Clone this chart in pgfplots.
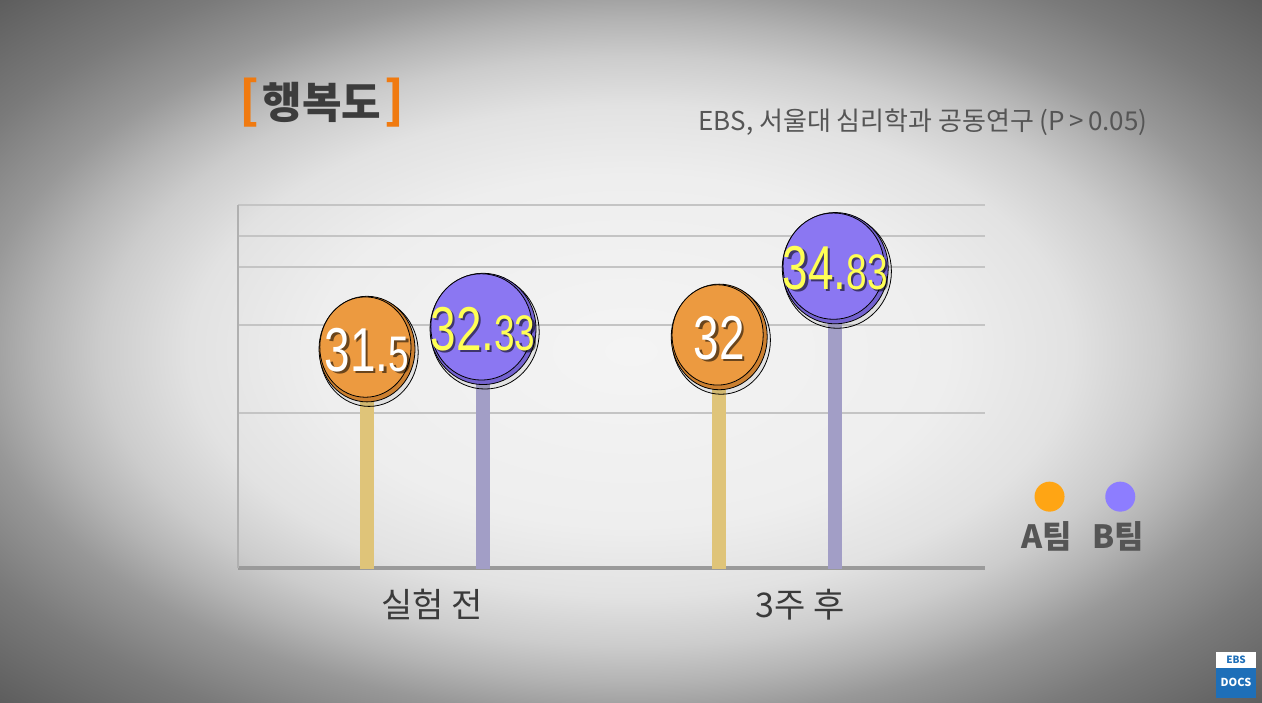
\documentclass[border=0pt]{standalone}
\usepackage{fontspec}
\setmainfont{Noto Sans CJK KR}
\newfontfamily\numfont[FakeStretch=0.74]{Liberation Sans}
\usepackage{pgfplots}
\pgfplotsset{compat=1.18}

\definecolor{bg0}{HTML}{F4F4F4}
\definecolor{bg1}{HTML}{EEEEEE}
\definecolor{bg2}{HTML}{E2E2E2}
\definecolor{bg3}{HTML}{CCCCCC}
\definecolor{bg4}{HTML}{B4B4B4}
\definecolor{bg5}{HTML}{989898}
\definecolor{bg6}{HTML}{7A7A7A}
\definecolor{bg7}{HTML}{5A5A5A}
\definecolor{brk}{HTML}{F07A10}
\definecolor{ttl}{HTML}{3C3C3C}
\definecolor{sub}{HTML}{555555}
\definecolor{gridc}{HTML}{C4C4C4}
\definecolor{axc}{HTML}{9A9A9A}
\definecolor{axc2}{HTML}{B0B0B0}
\definecolor{stickA}{HTML}{DFC479}
\definecolor{stickB}{HTML}{A29EC6}
\definecolor{rimA}{HTML}{CC8030}
\definecolor{mainA}{HTML}{EC9A40}
\definecolor{rimB}{HTML}{7362CF}
\definecolor{mainB}{HTML}{8B77F2}
\definecolor{legA}{HTML}{FFA514}
\definecolor{legB}{HTML}{8D7DFF}
\definecolor{valA}{HTML}{FFFFFF}
\definecolor{valB}{HTML}{FFFF55}
\definecolor{lbl}{HTML}{3A3A3A}
\definecolor{lgt}{HTML}{555555}
\definecolor{ebsblue}{HTML}{1E6FB8}

\pgfdeclareradialshading{vig}{\pgfpoint{0bp}{0bp}}{color(0bp)=(bg0); color(25bp)=(bg1); color(35bp)=(bg2); color(42bp)=(bg3); color(47bp)=(bg4); color(52bp)=(bg5); color(60bp)=(bg6); color(72bp)=(bg7)}

\newcommand\dec[1]{{\fontsize{25bp}{25bp}\selectfont #1}}

\pgfplotsset{
  valnodes/.style={draw=none, mark=none, forget plot,
    point meta=explicit symbolic, nodes near coords,
    every node near coord/.append style={anchor=center,
      font=\numfont\fontsize{31bp}{31bp}\selectfont, inner sep=0pt}},
}

\begin{document}
\begin{tikzpicture}[x=1bp,y=1bp]
\useasboundingbox (0,0) rectangle (631,351);
\begin{scope}
\clip (0,0) rectangle (631,351);
\begin{pgfscope}
\pgftransformshift{\pgfpoint{315.5bp}{175.5bp}}
\pgftransformxscale{6.31}
\pgftransformyscale{3.51}
\pgflowlevelsynccm
\pgfuseshading{vig}
\end{pgfscope}
\end{scope}
% title
\node at (161,299.5) {\textcolor{brk}{\fontsize{25bp}{25bp}\selectfont\bfseries [}\,\textcolor{ttl}{\fontsize{21.5bp}{21.5bp}\selectfont\bfseries 행복도}\,\textcolor{brk}{\fontsize{25bp}{25bp}\selectfont\bfseries ]}};
% subtitle
\node[text=sub] at (461.5,290) {\fontsize{13bp}{13bp}\selectfont EBS, 서울대 심리학과 공동연구 (P\,>\,0.05)};
% logo
\fill[white] (608,17) rectangle (628,25);
\fill[ebsblue] (608,2) rectangle (628,17);
\node[text=ebsblue, inner sep=0pt] at (618,21) {\fontsize{5bp}{5bp}\selectfont\bfseries EBS};
\node[text=white, inner sep=0pt] at (618,10) {\fontsize{5.5bp}{5.5bp}\selectfont\bfseries DOCS};

\begin{axis}[
  at={(119bp,67bp)}, anchor=south west, scale only axis,
  width=373.5bp, height=181.5bp,
  xmin=-0.531, xmax=1.59, ymin=22.49, ymax=37.43,
  axis lines*=left,
  x axis line style={line width=1.6bp, color=axc, -},
  y axis line style={line width=0.8bp, color=axc2, -},
  xtick={0.02,1.065}, xticklabels={실험 전,3주 후},
  ytick={28.87,32.49,34.88,36.15,37.43}, yticklabels={},
  major tick length=0pt,
  ymajorgrids, grid style={color=gridc, line width=0.9bp},
  xticklabel style={font=\fontsize{17bp}{17bp}\selectfont, text=lbl, yshift=-7bp},
  legend style={at={(1.035,0.022)}, anchor=south west, draw=none, fill=none,
    font=\fontsize{16bp}{16bp}\selectfont\bfseries, text=lgt,
    /tikz/every even column/.append style={column sep=6bp}},
  legend columns=2,
  legend image code/.code={\path[draw=none,fill=none] (0,0) rectangle (0.1bp,0.1bp);
    \fill[#1,overlay] (16bp,20bp) circle (7.5bp);},
]
% sticks
\addplot[ycomb, draw=stickA, line width=7bp, line cap=round, xshift=-29bp, forget plot] coordinates {(0,31.5) (1,32)};
\addplot[ycomb, draw=stickB, line width=7bp, line cap=round, xshift=29bp, forget plot] coordinates {(0,32.33) (1,34.83)};
% circle shadows
\addplot[only marks, mark=*, mark size=24.6bp, mark options={draw=none, fill=black, fill opacity=0.06, yscale=1.1}, xshift=-28bp, yshift=-1.6bp, forget plot] coordinates {(0,31.5) (1,32)};
\addplot[only marks, mark=*, mark size=27.1bp, mark options={draw=none, fill=black, fill opacity=0.06, yscale=1.05}, xshift=30bp, yshift=-1.6bp, forget plot] coordinates {(0,32.33) (1,34.83)};
% rims
\addplot[only marks, mark=*, mark size=24bp, mark options={draw=none, fill=rimA, yscale=1.1}, xshift=-29bp, forget plot] coordinates {(0,31.5) (1,32)};
\addplot[only marks, mark=*, mark size=26.5bp, mark options={draw=none, fill=rimB, yscale=1.05}, xshift=29bp, forget plot] coordinates {(0,32.33) (1,34.83)};
% faces
\addplot[only marks, mark=*, mark size=22.8bp, mark options={draw=none, fill=mainA, yscale=1.1}, xshift=-29.8bp, yshift=1bp, forget plot] coordinates {(0,31.5) (1,32)};
\addplot[only marks, mark=*, mark size=25.3bp, mark options={draw=none, fill=mainB, yscale=1.05}, xshift=28.2bp, yshift=1bp, forget plot] coordinates {(0,32.33) (1,34.83)};
% value labels (shadow then text)
\addplot[valnodes, xshift=-27.8bp, yshift=-1.7bp, every node near coord/.append style={text=black, opacity=0.55}] coordinates {(0,31.5) [31.\dec{5}] (1,32) [32]};
\addplot[valnodes, xshift=-29bp, yshift=-0.5bp, every node near coord/.append style={text=valA}] coordinates {(0,31.5) [31.\dec{5}] (1,32) [32]};
\addplot[valnodes, xshift=30.2bp, yshift=-1.2bp, every node near coord/.append style={text=black, opacity=0.55}] coordinates {(0,32.33) [32.\dec{33}] (1,34.83) [34.\dec{83}]};
\addplot[valnodes, xshift=29bp, every node near coord/.append style={text=valB}] coordinates {(0,32.33) [32.\dec{33}] (1,34.83) [34.\dec{83}]};
% legend
\addlegendimage{fill=legA, draw=none}
\addlegendimage{fill=legB, draw=none}
\legend{A팀,B팀}
\end{axis}
\end{tikzpicture}
\end{document}
